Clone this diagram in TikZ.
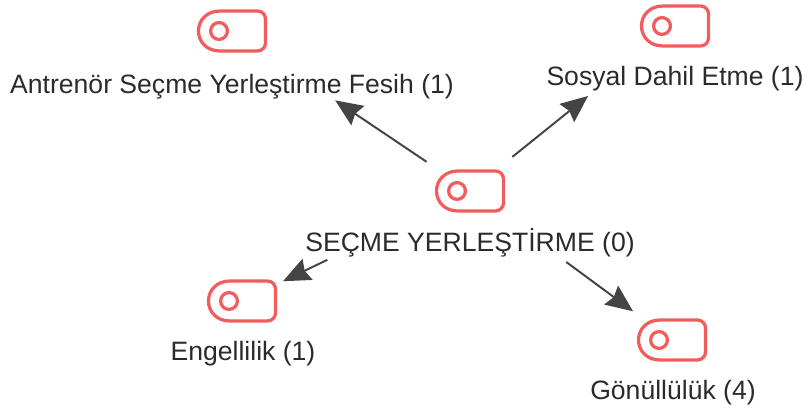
\documentclass[tikz,border=0pt]{standalone}
\usepackage{fontspec}
\setmainfont{Liberation Sans}
\usetikzlibrary{arrows.meta}
\definecolor{iconred}{HTML}{F25C5C}
\definecolor{edgegray}{HTML}{444444}
\definecolor{labelgray}{HTML}{2B2B2B}
\tikzset{
	tagicon/.pic={
		\draw[iconred, line width=2.3pt, rounded corners=0.2cm]
			(-12,-20) -- (33.5,-20) -- (33.5,20) -- (-12,20);
		\draw[iconred, line width=2.3pt]
			(-12,-20) .. controls (-25,-20) and (-33.5,-11) .. (-33.5,0)
			.. controls (-33.5,11) and (-25,20) .. (-12,20);
		\draw[iconred, line width=2.3pt] (-13,0) circle (0.21cm);
	},
	hub/.style={inner sep=0pt, minimum size=0pt},
	caption/.style={text=labelgray, font=\fontsize{18.9pt}{21pt}\selectfont, inner sep=0pt},
	edge/.style={draw=edgegray, line width=1.4pt, -{Stealth[length=0.68cm, width=0.58cm, inset=0.08cm]}}
}
\begin{document}
\begin{tikzpicture}[x=0.025cm, y=-0.025cm]
	\useasboundingbox (0,0) rectangle (803,412);
	\node[hub] (secme) at (470,191) {};
	\node[hub] (antrenor) at (232,31) {};
	\node[hub] (sosyal) at (675,26) {};
	\node[hub] (engel) at (242,301) {};
	\node[hub] (gonullu) at (672,340) {};
	\pic at (secme) {tagicon};
	\pic at (antrenor) {tagicon};
	\pic at (sosyal) {tagicon};
	\pic at (engel) {tagicon};
	\pic at (gonullu) {tagicon};
	\node[caption] (secmetext) at (470,243) {SEÇME YERLEŞTİRME (0)};
	\node[caption] (antrenortext) at (232,87) {Antrenör Seçme Yerleştirme Fesih (1)};
	\node[caption] (sosyaltext) at (675,79) {Sosyal Dahil Etme (1)};
	\node[caption] (engeltext) at (243,354) {Engellilik (1)};
	\node[caption] (gonullutext) at (673,393) {Gönüllülük (4)};
	\draw[edge, shorten <=1.3cm, shorten >=3.1cm] (secme) -- (antrenor);
	\draw[edge, shorten <=1.35cm, shorten >=2.78cm] (secme) -- (sosyal);
	\draw[edge, shorten <=3.95cm, shorten >=1.13cm] (secme) -- (engel);
	\draw[edge, shorten <=2.98cm, shorten >=1.2cm] (secme) -- (gonullu);
\end{tikzpicture}
\end{document}
